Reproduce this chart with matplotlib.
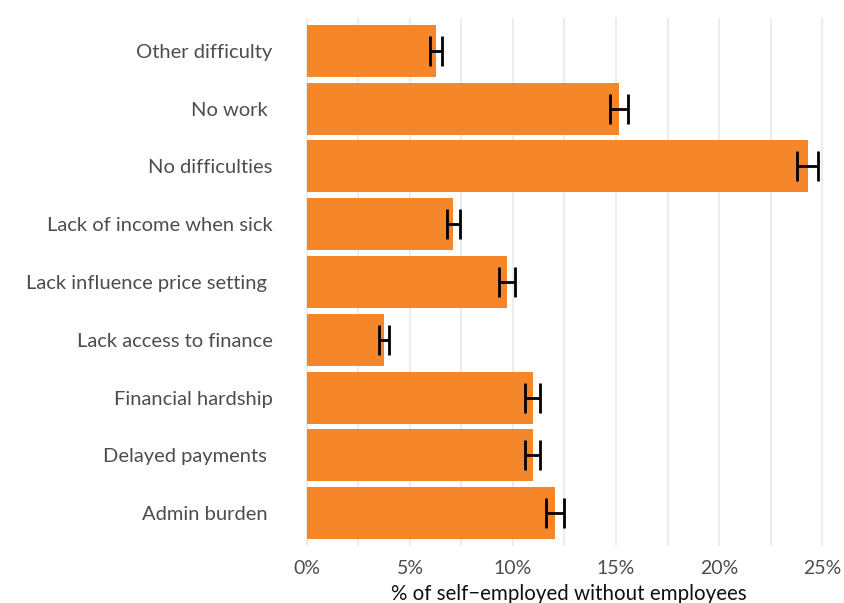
import matplotlib
matplotlib.use('Agg')
import matplotlib.pyplot as plt
from matplotlib.ticker import MultipleLocator, FuncFormatter

# difficulties faced by the self-employed, bottom to top
labels = ['Admin burden ', 'Delayed payments ', 'Financial hardship',
          'Lack access to finance', 'Lack influence price setting ',
          'Lack of income when sick', 'No difficulties', 'No work ',
          'Other difficulty']
share = [12.05, 10.95, 10.95, 3.75, 9.7, 7.1, 24.3, 15.15, 6.25]
err   = [0.45, 0.38, 0.38, 0.25, 0.38, 0.32, 0.5, 0.45, 0.3]

plt.rcParams['font.family'] = ['Lato', 'DejaVu Sans']

fig = plt.figure(figsize=(8.44, 6.03), dpi=100)
ax = fig.add_axes([303 / 844, 0.0945, 531 / 844, 0.8756])

ypos = range(len(labels))
ax.barh(ypos, share, height=0.9, color='#F5872A', zorder=2)
ax.errorbar(share, ypos, xerr=err, fmt='none', ecolor='black',
            elinewidth=2.0, capsize=10.5, capthick=2.0, zorder=3)

ax.set_xlim(-0.19, 25.58)
ax.set_ylim(-0.57, 8.57)
ax.set_yticks(list(ypos))
ax.set_yticklabels(labels)
ax.xaxis.set_major_locator(MultipleLocator(5))
ax.xaxis.set_minor_locator(MultipleLocator(2.5))
ax.xaxis.set_major_formatter(FuncFormatter(lambda v, p: f'{v:.0f}%'))
ax.grid(axis='x', which='both', color='#EBEBEB', linewidth=1.3, zorder=0)
ax.tick_params(axis='both', which='both', length=0, labelsize=14.5,
               labelcolor='#4D4D4D')
ax.tick_params(axis='x', labelsize=14, pad=10)
ax.tick_params(axis='y', pad=22)
for s in ax.spines.values():
    s.set_visible(False)

ax.set_xlabel('% of self\u2212employed without employees', fontsize=14.8,
              color='#111111', labelpad=5)

fig.savefig('out.png', dpi=100)
